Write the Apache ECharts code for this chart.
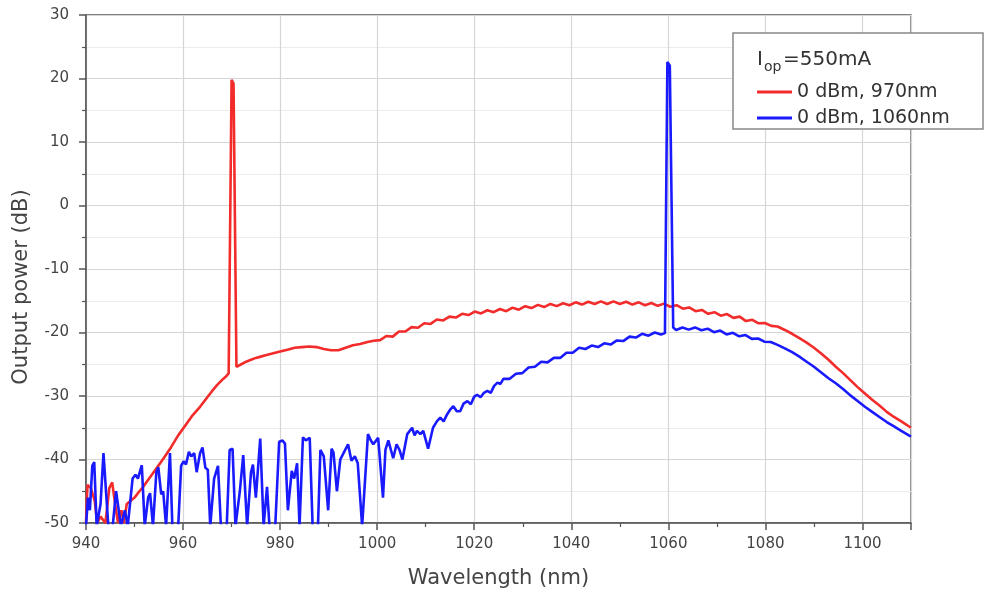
<!DOCTYPE html>
<html><head><meta charset="utf-8">
<script src="https://cdn.jsdelivr.net/npm/echarts@6/dist/echarts.min.js"></script>
<style>html,body{margin:0;padding:0;background:#fff}#c{width:992px;height:596px}</style>
</head><body><div id="c"></div>
<script>
const seriesNames = ['0 dBm, 970nm', '0 dBm, 1060nm'];
const legendTitle = ['I', 'op', '=550mA'];
const xAxisTitle = 'Wavelength (nm)';
const yAxisTitle = 'Output power (dB)';

// [wavelength (nm), output power (dB)]
const red970 = [
[940,-50],[940.3,-44],[941,-44.5],[941.8,-46.5],[942.3,-50],[943,-49],[944,-50],[944.8,-44.5],[945.4,-43.6],[946,-47],
[946.6,-50],[947.3,-48],[947.8,-50],[948.4,-47],[949.2,-46.5],[950,-46],[951,-45],[951.8,-44.3],[953,-43],[954.5,-41.4],
[956,-39.8],[957.5,-38.1],[959,-36.2],[960.5,-34.6],[962,-33],[963.5,-31.7],[965,-30.2],[966,-29.2],[967,-28.3],[968,-27.5],
[969,-26.8],[969.4,-26.4],[970,19.8],[970.4,19.2],[971,-25.4],[972,-25.0],[973,-24.6],[974,-24.3],[975,-24.0],[976,-23.8],
[977,-23.6],[978,-23.4],[979,-23.2],[980,-23.0],[981.5,-22.7],[983,-22.4],[984.5,-22.3],[986,-22.2],[987.5,-22.3],[989,-22.6],
[990.5,-22.8],[992,-22.8],[993.5,-22.4],[995,-22.0],[996.5,-21.8],[998,-21.5],[999.3,-21.3],
[1000.6,-21.2],[1001.9,-20.55],[1003.2,-20.65],[1004.5,-19.85],[1005.8,-19.85],[1007.1,-19.15],[1008.4,-19.25],[1009.7,-18.55],
[1011.0,-18.65],[1012.3,-17.95],[1013.6,-18.1],[1014.9,-17.5],[1016.2,-17.65],[1017.5,-17.05],[1018.8,-17.25],[1020.1,-16.7],
[1021.4,-17.0],[1022.7,-16.5],[1024.0,-16.8],[1025.3,-16.3],[1026.6,-16.65],[1027.9,-16.1],[1029.2,-16.4],[1030.5,-15.85],
[1031.8,-16.15],[1033.1,-15.65],[1034.4,-16.0],[1035.7,-15.5],[1037.0,-15.85],[1038.3,-15.4],[1039.6,-15.7],[1040.9,-15.25],
[1042.2,-15.6],[1043.5,-15.15],[1044.8,-15.5],[1046.1,-15.1],[1047.4,-15.5],[1048.7,-15.1],[1050.0,-15.5],[1051.3,-15.15],
[1052.6,-15.6],[1053.9,-15.25],[1055.2,-15.7],[1056.5,-15.35],[1057.8,-15.8],[1059.1,-15.45],[1060.4,-15.95],[1061.7,-15.7],
[1063.0,-16.25],[1064.3,-16.05],[1065.6,-16.65],[1066.9,-16.45],[1068.2,-17.05],[1069.5,-16.8],[1070.8,-17.35],[1072.1,-17.1],
[1073.4,-17.7],[1074.7,-17.5],[1076.0,-18.2],[1077.3,-18.0],[1078.6,-18.55],[1079.9,-18.5],[1081.2,-18.95],[1082.5,-19.05],
[1084,-19.6],[1085.5,-20.2],[1087,-20.9],[1088.5,-21.6],[1090,-22.4],[1091.5,-23.3],[1093,-24.3],[1094.5,-25.4],[1096,-26.4],
[1097.5,-27.5],[1099,-28.6],[1100.5,-29.6],[1102,-30.6],[1103.5,-31.5],[1105,-32.5],[1106.5,-33.3],[1108,-34.0],[1110,-35.0]
];

const blue1060 = [
[940,-50.5],[940.4,-46],[940.8,-48],[941.3,-41],[941.7,-40.4],[942.2,-50.5],[943,-47],[943.6,-39],[944,-39.3],[944.6,-50.5],
[945.5,-50.5],[946.2,-45],[946.6,-45.2],[947.2,-50.5],[948,-48],[948.6,-50.5],[949.6,-43],[950.2,-42.4],[950.7,-43],[951.5,-40.9],
[952.1,-50.5],[952.8,-46],[953.2,-45.3],[953.8,-50.5],[954.5,-42],[954.9,-41.2],[955.5,-45.5],[955.9,-45],[956.5,-50.5],[957.3,-39],
[957.8,-50.5],[959,-50.5],[959.6,-41],[960.1,-40.3],[960.6,-40.8],[961.2,-38.8],[961.7,-39.5],[962.3,-39],[962.8,-42],[963.5,-39],
[964,-38.1],[964.6,-41.3],[965.1,-41.6],[965.6,-50.5],[966.4,-43],[967.2,-41],[967.8,-50.5],[969,-50.5],[969.6,-38.5],[970.2,-38.3],
[970.8,-50.5],[971.7,-45],[972.4,-39.3],[973.2,-50.5],[974,-42],[974.4,-40.8],[975,-46],[975.9,-36.7],[976.6,-50.5],[977.3,-44.3],
[977.8,-50.5],[979,-50.5],[979.8,-37.2],[980.5,-37],[981,-37.5],[981.6,-48],[982.4,-41.8],[982.9,-43],[983.5,-40.6],[984,-50.5],
[984.7,-36.5],[985.3,-37],[986.1,-36.6],[986.7,-50.5],[987.8,-50.5],[988.3,-38.5],[989,-39.5],[989.9,-48],[990.6,-38.3],[991,-38.9],
[991.7,-45],[992.4,-40],[993.2,-38.8],[994,-37.6],[994.7,-40.2],[995.4,-39.5],[996,-40.6],[996.9,-50.5],[997.3,-50.5],[998.1,-36],
[998.7,-37],[999.2,-37.6],[1000.2,-36.6],[1001.2,-46],[1001.7,-38.5],[1002.3,-37],[1003.3,-39.8],[1004,-37.6],[1004.6,-38.5],[1005.2,-40],
[1006.2,-36],[1007.2,-35],[1007.7,-36.2],[1008.2,-35.5],[1008.9,-36],[1009.5,-35.5],[1010.5,-38.3],[1011.5,-35],[1012.3,-34],[1013,-33.4],
[1013.7,-34],[1014.4,-32.9],[1015,-32.2],[1015.7,-31.6],[1016.4,-32.4],[1017.1,-32.4],[1017.8,-31.2],[1018.6,-30.8],[1019.3,-31.3],[1020,-30.1],
[1020.6,-29.8],[1021.3,-30.2],[1022,-29.5],[1022.7,-29.2],[1023.4,-29.5],[1024.1,-28.4],[1024.8,-27.9],[1025.4,-28.1],
[1026.0,-27.3],[1027.3,-27.3],[1028.6,-26.5],[1029.9,-26.4],[1031.2,-25.5],[1032.5,-25.4],[1033.8,-24.6],[1035.1,-24.7],
[1036.4,-24.0],[1037.7,-24.0],[1039.0,-23.2],[1040.3,-23.2],[1041.6,-22.4],[1042.9,-22.6],[1044.2,-22.05],[1045.5,-22.3],
[1046.8,-21.7],[1048.1,-21.9],[1049.4,-21.25],[1050.7,-21.35],[1052.0,-20.65],[1053.3,-20.8],[1054.6,-20.2],[1055.9,-20.5],
[1057.2,-20.0],[1058.5,-20.3],[1059.3,-20.1],[1059.8,22.6],[1060.3,22.0],[1061,-19.2],[1061.6,-19.6],
[1062.9,-19.2],[1064.2,-19.55],[1065.5,-19.2],[1066.8,-19.65],[1068.1,-19.4],[1069.4,-19.95],[1070.7,-19.7],[1072.0,-20.3],
[1073.3,-20.05],[1074.6,-20.6],[1075.9,-20.4],[1077.2,-21.0],[1078.5,-20.95],[1079.8,-21.45],[1081.1,-21.5],
[1082.5,-21.95],[1084,-22.5],[1085.5,-23.1],[1087,-23.8],[1088.5,-24.6],[1090,-25.4],[1091.5,-26.3],[1093,-27.2],[1094.5,-28.0],
[1096,-28.9],[1097.5,-29.9],[1099,-30.8],[1100.5,-31.7],[1102,-32.5],[1103.5,-33.3],[1105,-34.1],[1106.5,-34.8],[1108,-35.5],[1110,-36.4]
];

const FONT = 'DejaVu Sans';
const AX = '#555';
const chart = echarts.init(document.getElementById('c'), null, {renderer: 'canvas'});
chart.setOption({
  animation: false,
  backgroundColor: '#fff',
  grid: {left: 86, right: 81, top: 15, bottom: 73, show: true, borderColor: AX, borderWidth: 1.3, backgroundColor: 'transparent'},
  xAxis: {
    type: 'value', min: 940, max: 1110, interval: 20,
    name: xAxisTitle, nameLocation: 'middle', nameGap: 45,
    nameTextStyle: {fontFamily: FONT, fontSize: 21, color: '#444'},
    axisLine: {show: true, onZero: false, lineStyle: {color: AX, width: 1.5}},
    axisTick: {show: true, inside: false, length: 7, lineStyle: {color: AX, width: 1.5}},
    minorTick: {show: true, splitNumber: 2, length: 4, lineStyle: {color: AX, width: 1.2}},
    axisLabel: {showMaxLabel: false, margin: 14, fontFamily: FONT, fontSize: 15, color: '#444', formatter: v => String(v)},
    splitLine: {show: true, lineStyle: {color: '#d6d6d6', width: 1.2}}
  },
  yAxis: {
    type: 'value', min: -50, max: 30, interval: 10,
    axisLine: {show: true, onZero: false, lineStyle: {color: AX, width: 1.5}},
    axisTick: {show: true, inside: false, length: 7, lineStyle: {color: AX, width: 1.5}},
    minorTick: {show: true, splitNumber: 2, length: 4, lineStyle: {color: AX, width: 1.2}},
    axisLabel: {margin: 17, fontFamily: FONT, fontSize: 15, color: '#444', formatter: v => String(v)},
    splitLine: {show: true, lineStyle: {color: '#d6d6d6', width: 1.2}},
    minorSplitLine: {show: true, lineStyle: {color: '#ececec', width: 1}}
  },
  legend: {
    orient: 'vertical', left: 757, top: 82, padding: 0, itemGap: 6,
    itemWidth: 35, itemHeight: 3, icon: 'rect', z: 8,
    textStyle: {fontFamily: FONT, fontSize: 19, color: '#333', lineHeight: 20},
    data: seriesNames
  },
  graphic: [
    {type: 'rect', z: 6, shape: {x: 733, y: 33, width: 250, height: 96}, style: {fill: '#fff', stroke: '#888', lineWidth: 1.5}},
    {type: 'text', z: 9, x: 757, y: 60, style: {text: legendTitle[0], font: '20px "DejaVu Sans"', fill: '#333', verticalAlign: 'middle'}},
    {type: 'text', z: 9, x: 764, y: 67, style: {text: legendTitle[1], font: '14px "DejaVu Sans"', fill: '#333', verticalAlign: 'middle'}},
    {type: 'text', z: 9, x: 783, y: 60, style: {text: legendTitle[2], font: '20px "DejaVu Sans"', fill: '#333', verticalAlign: 'middle'}},
    {type: 'text', z: 9, x: 22, y: 287, rotation: Math.PI / 2, style: {text: yAxisTitle, font: '21px "DejaVu Sans"', fill: '#444', align: 'center', verticalAlign: 'middle'}}
  ],
  series: [
    {name: seriesNames[0], type: 'line', data: red970, symbol: 'none', clip: true,
     lineStyle: {color: '#f22b2b', width: 2.6}, itemStyle: {color: '#f22b2b'}},
    {name: seriesNames[1], type: 'line', data: blue1060, symbol: 'none', clip: true,
     lineStyle: {color: '#1a1aff', width: 2.6}, itemStyle: {color: '#1a1aff'}}
  ]
});
</script></body></html>
